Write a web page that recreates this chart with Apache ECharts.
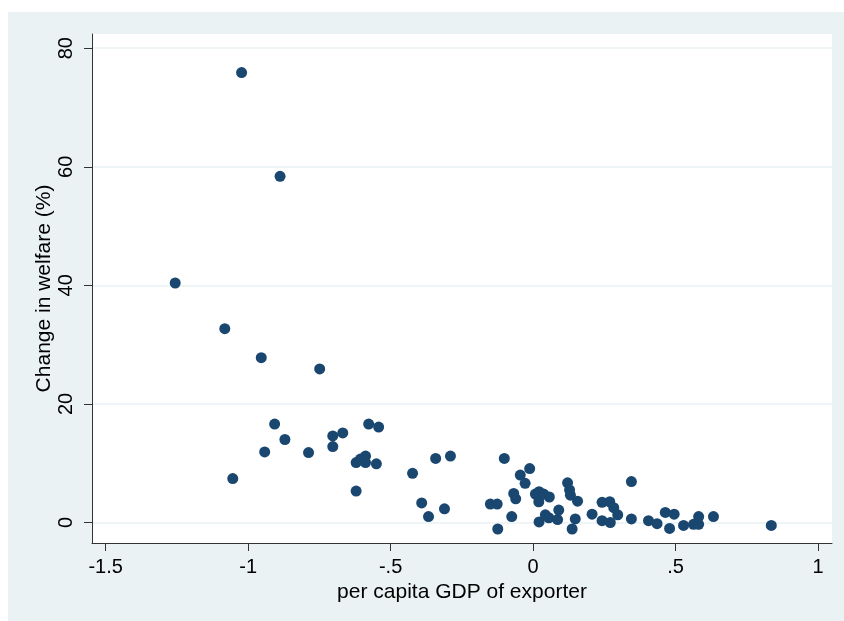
<!DOCTYPE html>
<html>
<head>
<meta charset="utf-8">
<script src="https://cdn.jsdelivr.net/npm/echarts@6/dist/echarts.min.js"></script>
<style>
html,body{margin:0;padding:0;background:#ffffff;}
#chart{width:844px;height:621px;}
</style>
</head>
<body>
<div id="chart"></div>
<script>
// per capita GDP of exporter (x) and change in welfare % (y)
var gdpX = [
  -1.023, -0.888, -1.256, -1.082, -0.954, -0.749, -1.054, -0.942, -0.907, -0.871,
  -0.788, -0.703, -0.703, -0.668, -0.621, -0.621, -0.606, -0.588, -0.588, -0.550,
  -0.577, -0.542, -0.423, -0.342, -0.290, -0.391, -0.367, -0.311, -0.150, -0.126,
  -0.124, -0.101, -0.012, -0.045, -0.028, -0.068, -0.061, -0.075, 0.008, 0.021,
  0.020, 0.037, 0.057, 0.021, 0.043, 0.055, 0.090, 0.086, 0.121, 0.131,
  0.128, 0.156, 0.148, 0.137, 0.345, 0.207, 0.242, 0.269, 0.283, 0.297,
  0.242, 0.271, 0.345, 0.405, 0.435, 0.464, 0.495, 0.479, 0.528, 0.563,
  0.581, 0.581, 0.633, 0.836
];
var welfareY = [
  75.9, 58.4, 40.4, 32.7, 27.8, 25.9, 7.4, 11.9, 16.6, 14.0,
  11.8, 14.6, 12.8, 15.1, 5.3, 10.1, 10.7, 11.2, 10.1, 9.9,
  16.6, 16.1, 8.3, 10.8, 11.2, 3.3, 1.0, 2.3, 3.1, 3.1,
  -1.1, 10.8, 9.1, 8.0, 6.6, 4.9, 4.0, 1.0, 4.8, 5.2,
  3.5, 4.8, 4.3, 0.1, 1.3, 0.8, 2.1, 0.5, 6.7, 4.6,
  5.5, 3.6, 0.6, -1.1, 6.9, 1.4, 3.4, 3.5, 2.5, 1.3,
  0.3, 0.0, 0.6, 0.3, -0.2, 1.7, 1.4, -1.0, -0.5, -0.3,
  1.0, -0.3, 1.0, -0.5
];
var xTicks = [-1.5, -1, -0.5, 0, 0.5, 1];
var yTicks = [0, 20, 40, 60, 80];

var points = gdpX.map(function (x, i) { return [x, welfareY[i]]; });
function fmt(v) {
  var s = String(v);
  return s.replace(/^(-?)0\./, '$1.');
}
var font = "'Liberation Sans', Arial, Helvetica, sans-serif";
var chart = echarts.init(document.getElementById('chart'), null, {renderer: 'canvas'});
chart.setOption({
  animation: false,
  backgroundColor: '#ffffff',
  graphic: [{
    type: 'rect', z: -10, silent: true,
    shape: {x: 8, y: 12, width: 836, height: 609},
    style: {fill: '#eaf2f3'}
  }],
  grid: {
    left: 92, right: 12, top: 34, bottom: 78,
    show: true, backgroundColor: '#ffffff', borderWidth: 0
  },
  xAxis: {
    type: 'value',
    min: -1.548, max: 1.049,
    name: 'per capita GDP of exporter',
    nameLocation: 'middle',
    nameGap: 39,
    nameMoveOverlap: false,
    nameTextStyle: {fontFamily: font, fontSize: 21, color: '#000'},
    axisLine: {show: true, onZero: false, lineStyle: {color: '#333', width: 1}},
    axisTick: {show: true, length: 8, customValues: xTicks, lineStyle: {color: '#333'}},
    axisLabel: {customValues: xTicks, formatter: fmt, margin: 14,
      fontFamily: font, fontSize: 20, color: '#000'},
    splitLine: {show: false}
  },
  yAxis: {
    type: 'value',
    min: -3.46, max: 82.4,
    name: 'Change in welfare (%)',
    nameLocation: 'middle',
    nameGap: 37,
    nameMoveOverlap: false,
    nameRotate: 90,
    nameTextStyle: {fontFamily: font, fontSize: 21, color: '#000'},
    axisLine: {show: true, onZero: false, lineStyle: {color: '#333', width: 1}},
    axisTick: {show: true, length: 8, customValues: yTicks, lineStyle: {color: '#333'}},
    axisLabel: {customValues: yTicks, rotate: 90, margin: 16,
      fontFamily: font, fontSize: 20, color: '#000'},
    splitLine: {show: false}
  },
  series: [{
    type: 'scatter',
    data: points,
    symbol: 'circle',
    symbolSize: 11,
    itemStyle: {color: '#1a476f', opacity: 1},
    markLine: {
      silent: true, symbol: 'none', label: {show: false},
      lineStyle: {color: '#eaf2f3', width: 1.5, type: 'solid'},
      z: 0,
      data: yTicks.map(function (v) { return {yAxis: v}; })
    }
  }]
});
</script>
</body>
</html>
